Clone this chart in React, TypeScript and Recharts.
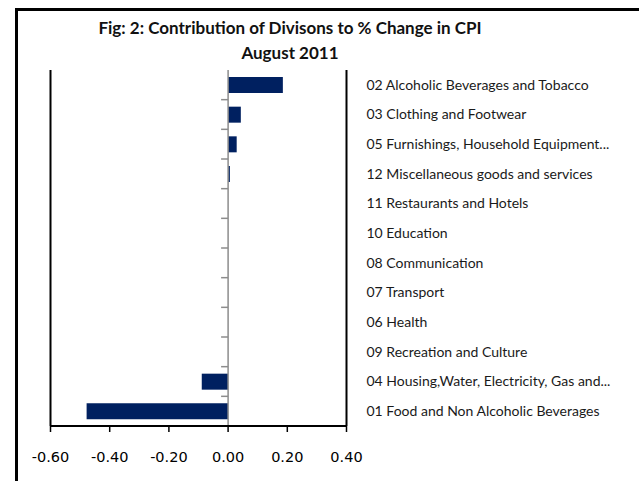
import React from 'react';
import { BarChart, Bar, XAxis, YAxis, ReferenceLine } from 'recharts';

const categories = [
  '02 Alcoholic Beverages and Tobacco',
  '03 Clothing and Footwear',
  '05 Furnishings, Household Equipment...',
  '12 Miscellaneous goods and services',
  '11 Restaurants and Hotels',
  '10 Education',
  '08 Communication',
  '07 Transport',
  '06 Health',
  '09 Recreation and Culture',
  '04 Housing,Water, Electricity, Gas and...',
  '01 Food and Non Alcoholic Beverages',
];
const contributions = [0.185, 0.043, 0.029, 0.006, 0, 0, 0, 0, 0, 0, -0.089, -0.478];
const xTicks = [-0.6, -0.4, -0.2, 0, 0.2, 0.4];

const data = categories.map((name, i) => ({ name, value: contributions[i] }));

// zero line with little category ticks on its left side
const ZeroLine = (props: any) => {
  const { x1, y1, x2, y2 } = props;
  const n = categories.length;
  return (
    <g>
      <line x1={x1} y1={y1} x2={x2} y2={y2} stroke="#8c8c8c" strokeWidth={1.5} />
      {Array.from({ length: n - 1 }, (_, i) => {
        const y = y1 + ((y2 - y1) * (i + 1)) / n;
        return <line key={i} x1={x1 - 7} x2={x1} y1={y} y2={y} stroke="#8c8c8c" strokeWidth={1.5} />;
      })}
    </g>
  );
};

const CategoryTick = ({ x, y, payload }: any) => (
  <text x={x + 12} y={y} dy="0.35em" textAnchor="start" fontFamily="Lato" fontSize={14} fill="#1a1a1a">
    {payload.value}
  </text>
);

export default function App() {
  return (
    <div style={{ position: 'fixed', left: 0, top: 0, width: 639, height: 481, overflow: 'hidden', background: '#fff' }}>
      <div style={{ position: 'absolute', left: 15, top: 8, width: 700, height: 600, borderTop: '3px solid #000', borderLeft: '3px solid #000' }} />
      <div style={{ position: 'absolute', left: 0, top: 15, width: 580, textAlign: 'center', fontFamily: 'Lato', fontWeight: 700, fontSize: 17, lineHeight: '25px', color: '#111' }}>
        Fig: 2: Contribution of Divisons to % Change in CPI<br />August 2011
      </div>
      <div style={{ position: 'absolute', left: 0, top: 0 }}>
        <BarChart
          width={639}
          height={481}
          data={data}
          layout="vertical"
          margin={{ top: 70, right: 12.5, bottom: 5, left: 50.5 }}
        >
          <XAxis
            type="number"
            domain={[-0.6, 0.4]}
            ticks={xTicks}
            height={50}
            tickFormatter={(v: number) => v.toFixed(2)}
            axisLine={{ stroke: '#000', strokeWidth: 2 }}
            tickLine={{ stroke: '#000', strokeWidth: 1.5 }}
            tickSize={6}
            tickMargin={20}
            tick={{ fill: '#000', fontFamily: 'DejaVu Sans', fontSize: 14.5 }}
          />
          <YAxis
            type="category"
            dataKey="name"
            orientation="right"
            width={280}
            axisLine={{ stroke: '#000', strokeWidth: 2 }}
            tickLine={false}
            interval={0}
            tick={<CategoryTick />}
          />
          <ReferenceLine x={-0.6} stroke="#000" strokeWidth={2} />
          <ReferenceLine x={0} shape={<ZeroLine />} />
          <Bar dataKey="value" fill="#002060" barSize={16} isAnimationActive={false} />
        </BarChart>
      </div>
    </div>
  );
}
